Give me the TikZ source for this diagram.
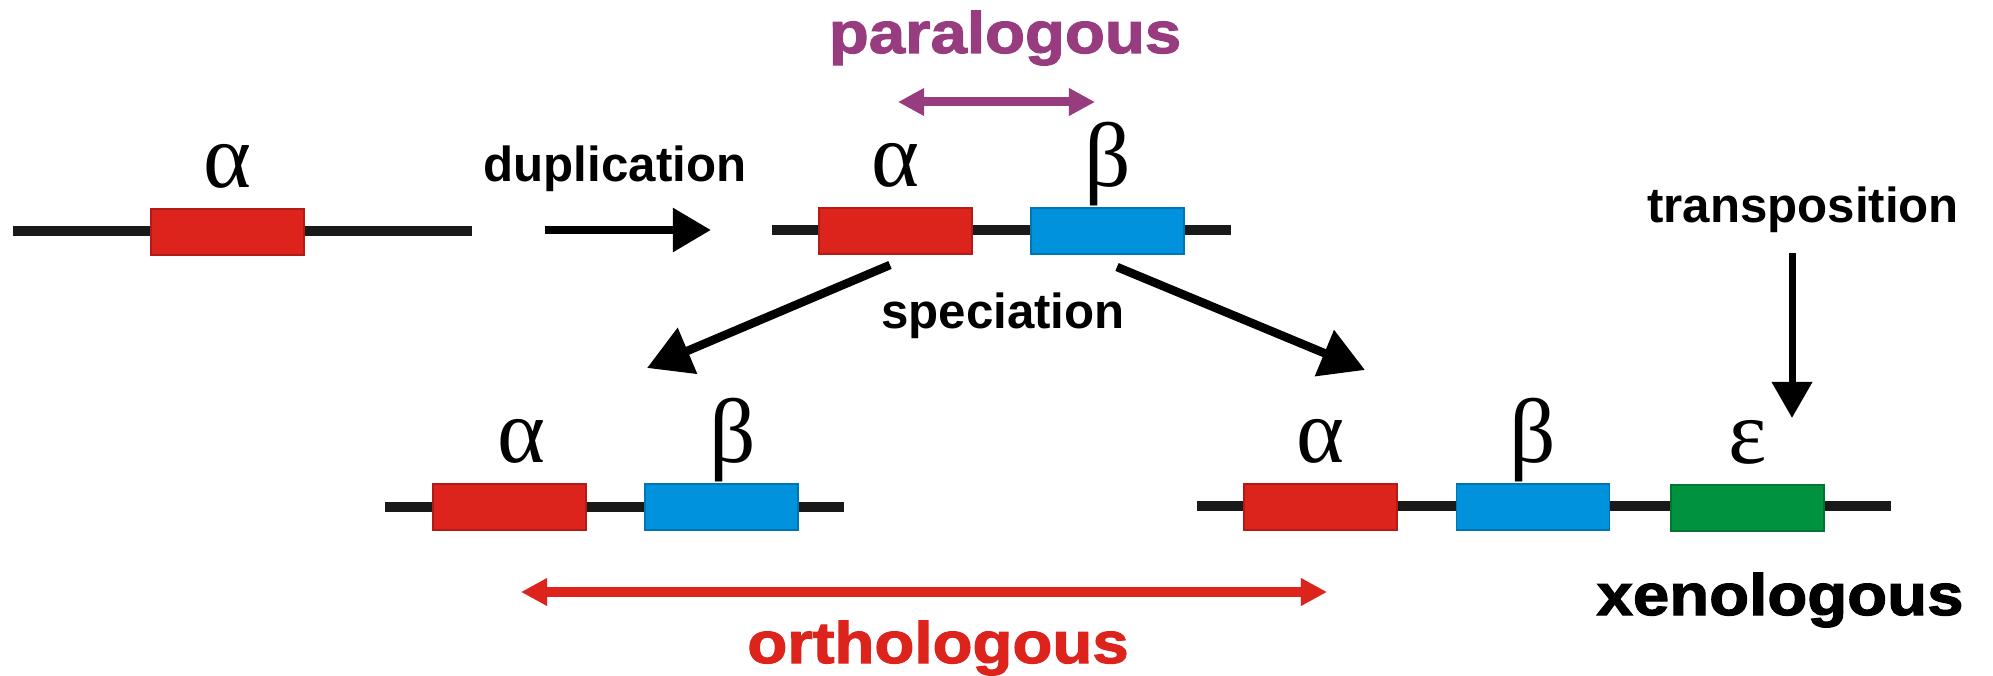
\documentclass[tikz,border=0pt]{standalone}
\usepackage{fontspec}
\setmainfont{Liberation Sans}
\newfontfamily\grec{Liberation Serif}
\newfontfamily\grosmot[FakeStretch=1.12,FakeBold=2]{Liberation Sans Bold}
\usetikzlibrary{arrows.meta,positioning}
\definecolor{rouge}{RGB}{221,36,28}
\definecolor{bleu}{RGB}{0,146,221}
\definecolor{vert}{RGB}{0,146,63}
\definecolor{violet}{RGB}{152,60,128}

\begin{document}
\begin{tikzpicture}[x=0.01cm, y=-0.01cm,
    chrom/.style={line width=0.09cm, black!90},
    gene/.style={rectangle, minimum width=1.53cm, minimum height=0.46cm, inner sep=0pt,
        fill=#1, draw=#1!80!black, line width=0.5pt},
    lettre/.style={font=\grec\fontsize{26}{26}\selectfont, anchor=base, inner sep=0pt},
    mot/.style={font=\bfseries\fontsize{14}{14}\selectfont, anchor=base, inner sep=0pt},
    titre/.style={font=\grosmot\fontsize{16.6}{16.6}\selectfont, anchor=base, inner sep=0pt},
    fleche/.style={line width=0.085cm, -{Triangle[length=0.38cm,width=0.42cm]}},
    grandefleche/.style={line width=0.085cm, -{Triangle[length=0.44cm,width=0.48cm]}},
    lien/.style={line width=0.09cm, {Triangle[length=0.26cm,width=0.26cm]}-{Triangle[length=0.26cm,width=0.26cm]}}]
\useasboundingbox (0,0) rectangle (1993,676);

% Gene de depart
\draw[chrom] (13,231) -- (472,231);
\node[gene=rouge] (a1) at (227.5,232) {};
\node[lettre] (la1) at ([yshift=0.21cm]a1.north) {α};

% Duplication
\coordinate (d1) at (545,230);
\coordinate (d2) at (711,230);
\draw[fleche] (d1) -- (d2);
\node[mot] (tdup) at (615,182) {duplication};

% Apres duplication
\draw[chrom] (772,230) -- (1231,230);
\node[gene=rouge] (a2) at (895.5,231) {};
\node[gene=bleu] (b2) at (1107.5,231) {};
\node[lettre] (la2) at ([yshift=0.21cm]a2.north) {α};
\node[lettre] (lb2) at ([yshift=0.21cm]b2.north) {β};

% Paralogues
\coordinate (p1) at (898,102);
\coordinate (p2) at (1095,102);
\draw[lien, violet] (p1) -- (p2);
\node[titre, violet] (tpara) at (1005,53) {paralogous};

% Speciation
\coordinate (s1) at (890,265);
\coordinate (s2) at (647,368);
\coordinate (s3) at (1117,267);
\coordinate (s4) at (1365,370);
\draw[grandefleche] (s1) -- (s2);
\draw[grandefleche] (s3) -- (s4);
\node[mot] (tspec) at (1003,328) {speciation};

% Espece 1
\draw[chrom] (385,507) -- (844,507);
\node[gene=rouge] (a3) at (509.5,507) {};
\node[gene=bleu] (b3) at (721.5,507) {};
\node[lettre] (la3) at ([xshift=0.12cm,yshift=0.21cm]a3.north) {α};
\node[lettre] (lb3) at ([xshift=0.11cm,yshift=0.21cm]b3.north) {β};

% Espece 2
\draw[chrom] (1197,506) -- (1891,506);
\node[gene=rouge] (a4) at (1320.5,507) {};
\node[gene=bleu] (b4) at (1533,507) {};
\node[gene=vert] (e4) at (1747.5,508) {};
\node[lettre] (la4) at ([yshift=0.21cm]a4.north) {α};
\node[lettre] (lb4) at ([yshift=0.21cm]b4.north) {β};
\node[lettre] (le4) at ([yshift=0.21cm]e4.north) {ε};

% Transposition
\node[mot] (ttrans) at (1803,222) {transposition};
\coordinate (t1) at (1792,253);
\coordinate (t2) at (1792,418);
\draw[line width=0.07cm, -{Triangle[length=0.36cm,width=0.39cm]}] (t1) -- (t2);

% Orthologues et xenologues
\coordinate (o1) at (521,592);
\coordinate (o2) at (1327,592);
\draw[lien, rouge] (o1) -- (o2);
\node[titre, rouge] (tortho) at (938,663) {orthologous};
\node[titre] (txeno) at (1780,615) {xenologous};

\end{tikzpicture}
\end{document}
